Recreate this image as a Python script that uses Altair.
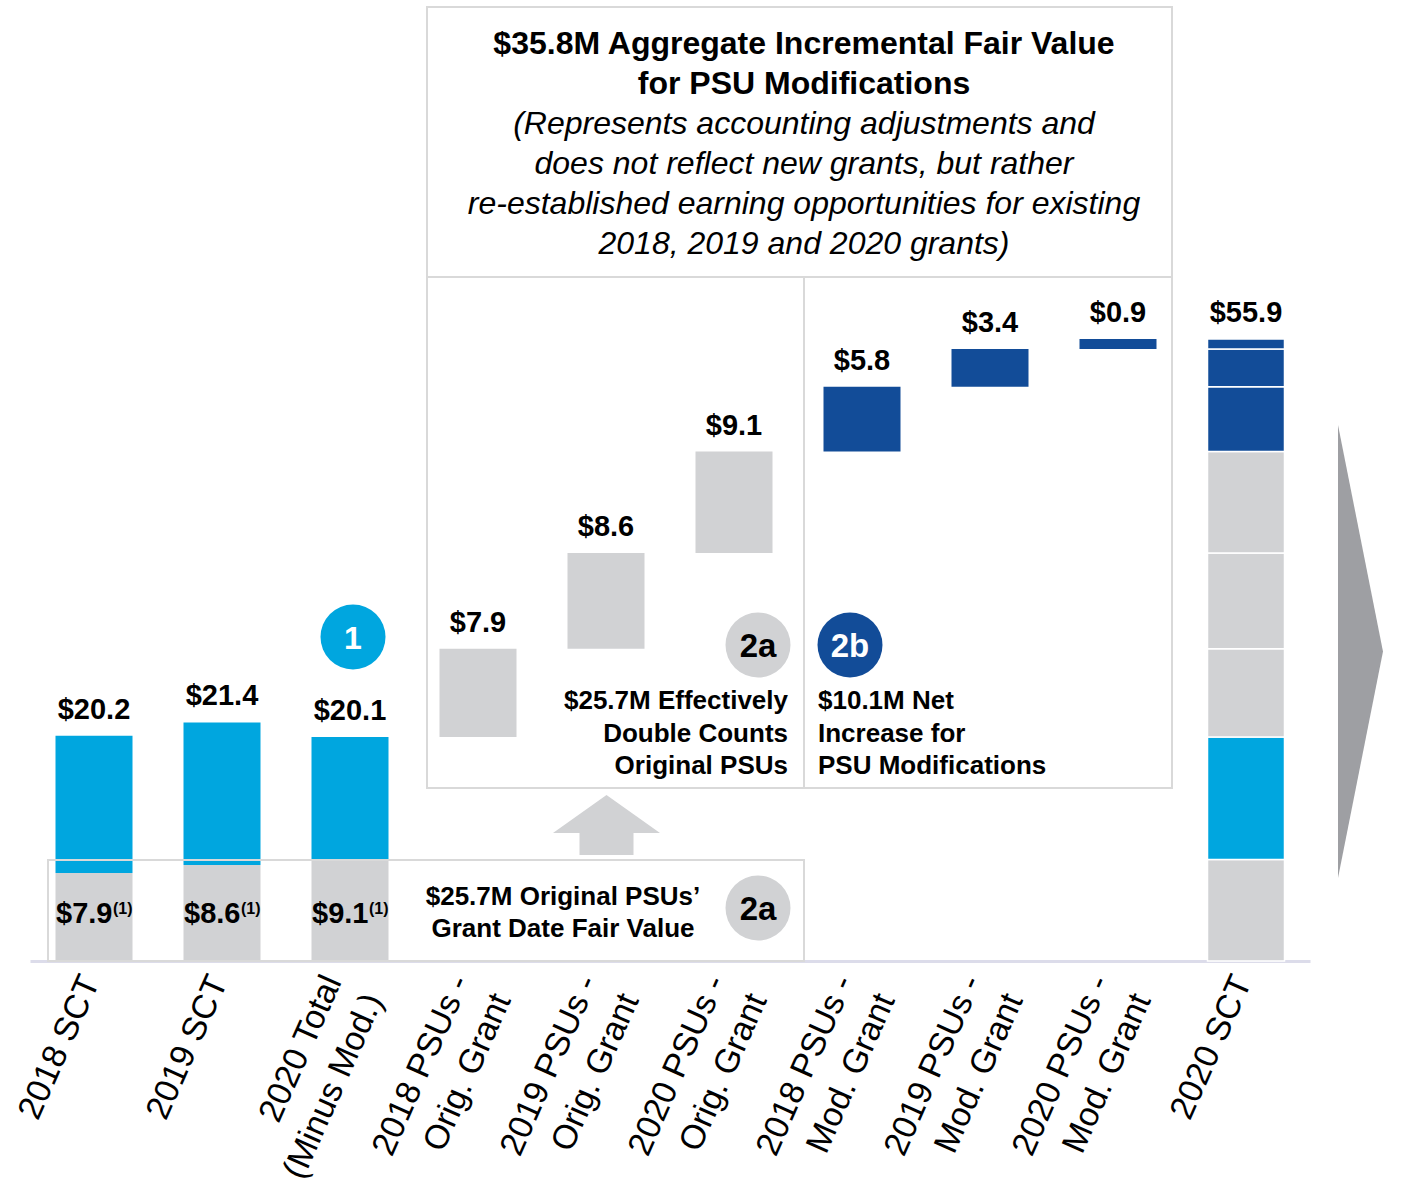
import altair as alt
import pandas as pd

FONT = "Liberation Sans"
GRAY = "#D1D2D4"
CYAN = "#00A6DF"
NAVY = "#124C98"
LINE = "#D9D9D9"
ARROW = "#9E9FA3"
AXIS = "#DCDCEA"

# ---------------- data ----------------
categories = [
    "2018 SCT",
    "2019 SCT",
    "2020 Total|(Minus Mod.)",
    "2018 PSUs -|Orig. Grant",
    "2019 PSUs -|Orig. Grant",
    "2020 PSUs -|Orig. Grant",
    "2018 PSUs -|Mod. Grant",
    "2019 PSUs -|Mod. Grant",
    "2020 PSUs -|Mod. Grant",
    "2020 SCT",
]
sct_psu = [7.9, 8.6, 9.1]          # grey part (original PSUs) of each SCT total
sct_total = [20.2, 21.4, 20.1]
orig_grant = [7.9, 8.6, 9.1]
mod_grant = [5.8, 3.4, 0.9]
total_2020_label = 55.9
footnote = "(1)"

# ---------------- tables ----------------
seg, labs, inner = [], [], []
for i in range(3):
    c = categories[i]
    seg.append(dict(cat=c, y0=0, y1=sct_psu[i], fill=GRAY, strk=GRAY, sw=0))
    seg.append(dict(cat=c, y0=sct_psu[i], y1=sct_total[i], fill=CYAN, strk=CYAN, sw=0))
    labs.append(dict(cat=c, top=sct_total[i], text=f"${sct_total[i]:.1f}"))
    inner.append(dict(cat=c, text=f"${sct_psu[i]:.1f}", sup=footnote))

last = categories[-1]
stack = [(0, sct_psu[2], GRAY), (sct_psu[2], sct_total[2], CYAN)]
run = sct_total[2]
for i, v in enumerate(orig_grant):
    c = categories[3 + i]
    seg.append(dict(cat=c, y0=run, y1=run + v, fill=GRAY, strk=GRAY, sw=0))
    labs.append(dict(cat=c, top=run + v, text=f"${v:.1f}"))
    stack.append((run, run + v, GRAY))
    run += v
for i, v in enumerate(mod_grant):
    c = categories[6 + i]
    seg.append(dict(cat=c, y0=run, y1=run + v, fill=NAVY, strk=NAVY, sw=0))
    labs.append(dict(cat=c, top=run + v, text=f"${v:.1f}"))
    stack.append((run, run + v, NAVY))
    run += v
for a, b, col in stack:
    seg.append(dict(cat=last, y0=a, y1=b, fill=col, strk="white", sw=1.5))
labs.append(dict(cat=last, top=run, text=f"${total_2020_label:.1f}"))

seg_df = pd.DataFrame(seg)
lab_df = pd.DataFrame(labs)
inner_df = pd.DataFrame(inner)

# ---------------- chart ----------------
X_AXIS = alt.Axis(
    title=None, labelExpr="split(datum.label, '|')", labelAngle=-66,
    labelAlign="right", labelBaseline="middle", labelFontSize=34,
    labelFont=FONT, labelColor="black", labelLimit=600, labelLineHeight=45,
    labelPadding=16, ticks=False, domainColor=AXIS, domainWidth=3,
    labelOverlap=False,
    labelOffset={"condition": {"test": "indexof(datum.value, '|') >= 0",
                               "value": -17},
                 "value": -3},
)
xenc = alt.X("cat:N", sort=categories,
             scale=alt.Scale(paddingInner=0, paddingOuter=0), axis=X_AXIS)
yscale = alt.Scale(domain=[0, 86.2], nice=False, zero=True)

bars = alt.Chart(seg_df).mark_bar(size=77).encode(
    x=xenc,
    y=alt.Y("y0:Q", scale=yscale, axis=None),
    y2="y1:Q",
    color=alt.Color("fill:N", scale=None),
    stroke=alt.Stroke("strk:N", scale=None),
    strokeWidth=alt.StrokeWidth("sw:Q", scale=None),
)

top_labels = alt.Chart(lab_df).mark_text(
    dy=-17, baseline="alphabetic", fontSize=29, fontWeight="bold", font=FONT,
    color="black",
).encode(x=xenc, y=alt.Y("top:Q", scale=yscale, axis=None), text="text:N")

inner_labels = alt.Chart(inner_df).mark_text(
    dx=-38, align="left", baseline="alphabetic", fontSize=29,
    fontWeight="bold", font=FONT, color="black",
).encode(x=xenc, y=alt.value(923), text="text:N")

inner_sup = alt.Chart(inner_df).mark_text(
    dx=19, align="left", baseline="alphabetic", fontSize=16,
    fontWeight="bold", font=FONT, color="black",
).encode(x=xenc, y=alt.value(914), text="sup:N")

DUMMY = alt.Data(values=[{"a": 1}])
OX = 30  # left padding (page -> plot coordinates)


def box(x1, y1, x2, y2):
    return alt.Chart(DUMMY).mark_rect(
        fillOpacity=0, stroke=LINE, strokeWidth=2
    ).encode(x=alt.value(x1 - OX), x2=alt.value(x2 - OX),
             y=alt.value(y1), y2=alt.value(y2))


def hrule(x1, x2, y):
    return alt.Chart(DUMMY).mark_rule(color=LINE, strokeWidth=2).encode(
        x=alt.value(x1 - OX), x2=alt.value(x2 - OX), y=alt.value(y))


def vrule(x, y1, y2):
    return alt.Chart(DUMMY).mark_rule(color=LINE, strokeWidth=2).encode(
        x=alt.value(x - OX), y=alt.value(y1), y2=alt.value(y2))


def text(t, x, y, size, weight="bold", style="normal", align="center",
         color="black", lh=None):
    kw = dict(text=t, fontSize=size, fontWeight=weight, fontStyle=style,
              align=align, baseline="alphabetic", color=color, font=FONT)
    if lh is not None:
        kw["lineHeight"] = lh
    return alt.Chart(DUMMY).mark_text(**kw).encode(
        x=alt.value(x - OX), y=alt.value(y))


def circle(x, y, col, d=65):
    return alt.Chart(DUMMY).mark_point(
        shape="circle", filled=True, fill=col, opacity=1, strokeWidth=0,
        size=d * d,
    ).encode(x=alt.value(x - OX), y=alt.value(y))


def shape(path, x, y, scale, col):
    return alt.Chart(DUMMY).mark_point(
        shape=path, filled=True, fill=col, opacity=1, strokeWidth=0,
        size=(2 * scale) ** 2,
    ).encode(x=alt.value(x - OX), y=alt.value(y))


annot = [
    box(427, 7, 1172, 788),
    hrule(427, 1172, 277),
    vrule(804, 277, 788),
    box(48, 860, 804, 961),
    shape("M -0.0993 -1 L 0.0993 0 L -0.0993 1 Z", 1360.5, 651.5, 226.5, ARROW),
    shape("M 0 -0.5 L 0.8917 0.1333 L 0.45 0.1333 L 0.45 0.5 L -0.45 0.5 "
          "L -0.45 0.1333 L -0.8917 0.1333 Z", 606.5, 825, 60, GRAY),
    text(["$35.8M Aggregate Incremental Fair Value", "for PSU Modifications"],
         804, 54, 32, lh=40),
    text(["(Represents accounting adjustments and",
          "does not reflect new grants, but rather",
          "re-established earning opportunities for existing",
          "2018, 2019 and 2020 grants)"],
         804, 134, 32, weight="normal", style="italic", lh=40),
    text(["$25.7M Effectively", "Double Counts", "Original PSUs"],
         788, 709, 26, align="right", lh=32.5),
    text(["$10.1M Net", "Increase for", "PSU Modifications"],
         818, 709, 26, align="left", lh=32.5),
    text(["$25.7M Original PSUs\u2019", "Grant Date Fair Value"],
         563, 905, 26, lh=32),
    circle(353, 637, CYAN),
    text("1", 353, 649, 32, color="white"),
    circle(758, 645, GRAY),
    text("2a", 758, 657, 33),
    circle(850, 645, NAVY),
    text("2b", 850, 657, 33, color="white"),
    circle(758, 908, GRAY),
    text("2a", 758, 920, 33),
]

chart = alt.layer(bars, *annot[:4], top_labels, inner_labels, inner_sup,
                  *annot[4:]).properties(
    width=1280, height=961,
    padding={"left": 30, "top": 0, "right": 108, "bottom": 235},
    autosize=alt.AutoSizeParams(type="none"),
).configure(background="white").configure_view(stroke="transparent", strokeWidth=0)

chart.save("out.html", embed_options={"renderer": "svg", "actions": False})
